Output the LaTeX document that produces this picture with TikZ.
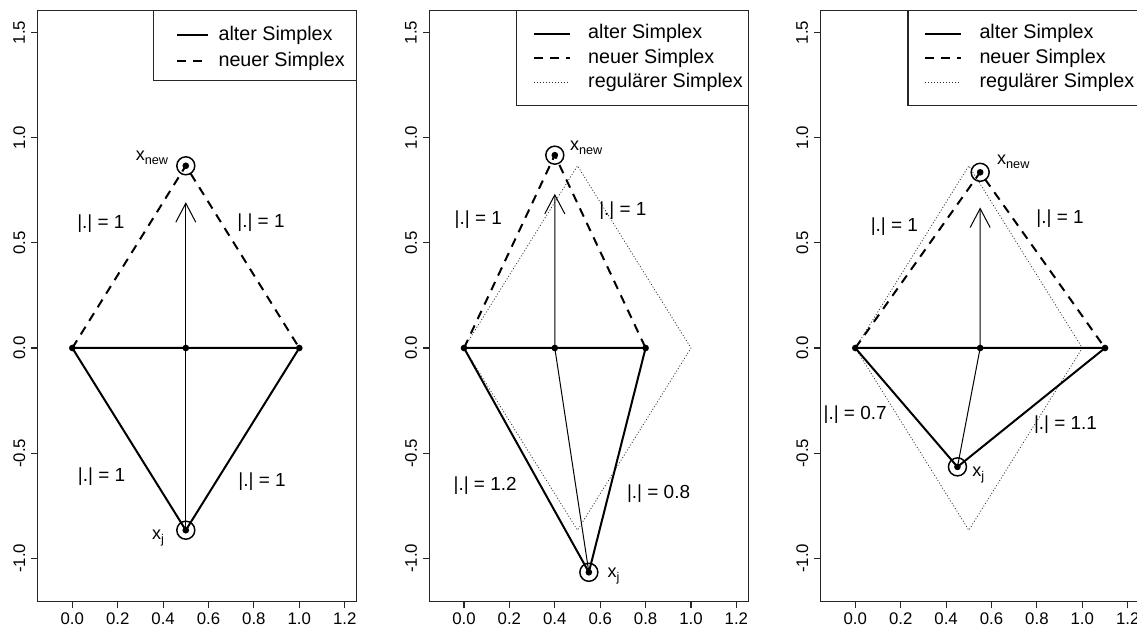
\documentclass[tikz,border=0pt]{standalone}
\usepackage{fontspec}
\setmainfont{Liberation Sans}
\usetikzlibrary{arrows.meta}
\newcommand\sbs[1]{\raisebox{-0.45ex}{\fontsize{9.5}{10}\selectfont #1}}
\tikzset{
  frame/.style={draw=black!85, line width=0.8pt},
  legbox/.style={draw=black!85, line width=0.8pt, fill=white},
  oldsx/.style={line width=1.5pt, line join=round},
  newsx/.style={line width=1.5pt, dash pattern=on 6.75pt off 5.25pt},
  regsx/.style={line width=0.6pt, dash pattern=on 0.75pt off 1.5pt, draw=black!80, line join=round},
  arrowline/.style={line width=0.75pt, -{Straight Barb[length=14.25pt,width=15pt]}},
  dotpt/.style={circle, fill=black, inner sep=0pt, minimum size=5pt},
  ring/.style={circle, draw, line width=1.1pt, inner sep=0pt, minimum size=13.5pt},
  lab/.style={font=\fontsize{14.2}{16}\selectfont, inner sep=0pt},
  xlab/.style={font=\fontsize{13.5}{16}\selectfont, inner sep=0pt},
  leg/.style={font=\fontsize{14.8}{17}\selectfont, inner sep=0pt, anchor=west},
  ticklab/.style={font=\fontsize{12.6}{14}\selectfont, inner sep=0pt}
}
\newcommand\plotaxes[1]{%
  \draw[frame] (-0.152,-1.204) rectangle (1.252,1.604);
  \foreach \v/\k [count=\c] in {0/0.0,0.2/0.2,0.4/0.4,0.6/0.6,0.8/0.8,1/1.0,1.2/1.2}{%
    \draw[frame] (\v,-1.204) -- ++(0,-5.25pt);
    \node[ticklab] (xt#1\c) at ([yshift=-13.3pt]\v,-1.204) {\k};
  }
  \foreach \v/\k [count=\c] in {-1/-1.0,-0.5/-0.5,0/0.0,0.5/0.5,1/1.0,1.5/1.5}{%
    \draw[frame] (-0.152,\v) -- ++(-5.25pt,0);
    \node[ticklab, rotate=90] (yt#1\c) at ([xshift=-13.9pt]-0.152,\v) {\k};
  }
}
\newcommand\regsimplex[1]{%
  \coordinate (ra#1) at (0,0); \coordinate (rb#1) at (1,0);
  \coordinate (rt#1) at (0.5,0.866); \coordinate (rd#1) at (0.5,-0.866);
  \draw[regsx] (ra#1) -- (rt#1) -- (rb#1) -- (rd#1) -- cycle;
}
\newcommand\legthree[1]{%
  \draw[legbox] (0.232,1.1535) rectangle (1.252,1.604);
  \coordinate (lsa#1) at (0.308,1.493); \coordinate (lsb#1) at (0.465,1.493);
  \coordinate (lda#1) at (0.308,1.376); \coordinate (ldb#1) at (0.465,1.376);
  \coordinate (lra#1) at (0.308,1.264); \coordinate (lrb#1) at (0.465,1.264);
  \draw[oldsx] (lsa#1) -- (lsb#1);
  \draw[newsx] (lda#1) -- (ldb#1);
  \draw[regsx] (lra#1) -- (lrb#1);
  \node[leg] (lts#1) at (0.546,1.493) {alter Simplex};
  \node[leg] (ltd#1) at (0.546,1.376) {neuer Simplex};
  \node[leg] (ltr#1) at (0.546,1.264) {regulärer Simplex};
}
\begin{document}
\begin{tikzpicture}
\useasboundingbox (0,0) rectangle (852.75pt,471pt);

% ---------------- Panel 1 ----------------
\begin{scope}[shift={(54.225pt,210pt)}, x=170.25pt, y=157.8pt]
  \plotaxes{1}
  \coordinate (a1) at (0,0); \coordinate (b1) at (1,0); \coordinate (m1) at (0.5,0);
  \coordinate (j1) at (0.5,-0.866); \coordinate (n1) at (0.5,0.866); \coordinate (t1) at (0.5,0.693);
  \draw[oldsx] (a1) -- (b1) -- (j1) -- cycle;
  \draw[newsx] (a1) -- (n1) -- (b1);
  \draw[arrowline] (j1) -- (m1) -- (t1);
  \foreach \p in {a1,b1,m1,j1,n1}{\node[dotpt] (d\p) at (\p) {};}
  \node[ring] (rj1) at (j1) {};
  \node[ring] (rn1) at (n1) {};
  \node[lab] (e1a) at (0.126,0.589) {|.| = 1};
  \node[lab] (e1b) at (0.831,0.594) {|.| = 1};
  \node[lab] (e1c) at (0.129,-0.613) {|.| = 1};
  \node[lab] (e1d) at (0.836,-0.637) {|.| = 1};
  \node[xlab] (xn1) at (0.351,0.905) {x\sbs{new}};
  \node[xlab] (xj1) at (0.378,-0.905) {x\sbs{j}};
  \draw[legbox] (0.357,1.270) rectangle (1.252,1.604);
  \coordinate (lsa1) at (0.4626,1.488); \coordinate (lsb1) at (0.5996,1.488);
  \coordinate (lda1) at (0.4626,1.364); \coordinate (ldb1) at (0.5996,1.364);
  \draw[oldsx] (lsa1) -- (lsb1);
  \draw[newsx] (lda1) -- (ldb1);
  \node[leg] (lts1) at (0.643,1.488) {alter Simplex};
  \node[leg] (ltd1) at (0.643,1.364) {neuer Simplex};
\end{scope}

% ---------------- Panel 2 ----------------
\begin{scope}[shift={(348pt,210pt)}, x=170.25pt, y=157.8pt]
  \plotaxes{2}
  \regsimplex{2}
  \coordinate (a2) at (0,0); \coordinate (b2) at (0.8,0); \coordinate (m2) at (0.4,0);
  \coordinate (j2) at (0.55,-1.066); \coordinate (n2) at (0.4,0.9165); \coordinate (t2) at (0.4,0.733);
  \draw[oldsx] (a2) -- (b2) -- (j2) -- cycle;
  \draw[newsx] (a2) -- (n2) -- (b2);
  \draw[arrowline] (j2) -- (m2) -- (t2);
  \foreach \p in {a2,b2,m2,j2,n2}{\node[dotpt] (d\p) at (\p) {};}
  \node[ring] (rj2) at (j2) {};
  \node[ring] (rn2) at (n2) {};
  \node[lab] (e2a) at (0.063,0.608) {|.| = 1};
  \node[lab] (e2b) at (0.700,0.651) {|.| = 1};
  \node[lab] (e2c) at (0.093,-0.656) {|.| = 1.2};
  \node[lab] (e2d) at (0.857,-0.691) {|.| = 0.8};
  \node[xlab] (xn2) at (0.538,0.952) {x\sbs{new}};
  \node[xlab] (xj2) at (0.659,-1.085) {x\sbs{j}};
  \legthree{2}
\end{scope}

% ---------------- Panel 3 ----------------
\begin{scope}[shift={(641.475pt,210pt)}, x=170.25pt, y=157.8pt]
  \plotaxes{3}
  \regsimplex{3}
  \coordinate (a3) at (0,0); \coordinate (b3) at (1.1,0); \coordinate (m3) at (0.55,0);
  \coordinate (j3) at (0.45,-0.565); \coordinate (n3) at (0.55,0.835); \coordinate (t3) at (0.55,0.668);
  \draw[oldsx] (a3) -- (b3) -- (j3) -- cycle;
  \draw[newsx] (a3) -- (n3) -- (b3);
  \draw[arrowline] (j3) -- (m3) -- (t3);
  \foreach \p in {a3,b3,m3,j3,n3}{\node[dotpt] (d\p) at (\p) {};}
  \node[ring] (rj3) at (j3) {};
  \node[ring] (rn3) at (n3) {};
  \node[lab] (e3a) at (0.172,0.577) {|.| = 1};
  \node[lab] (e3b) at (0.902,0.616) {|.| = 1};
  \node[lab] (e3c) at (-0.001,-0.318) {|.| = 0.7};
  \node[lab] (e3d) at (0.926,-0.363) {|.| = 1.1};
  \node[xlab] (xn3) at (0.696,0.886) {x\sbs{new}};
  \node[xlab] (xj3) at (0.542,-0.605) {x\sbs{j}};
  \legthree{3}
\end{scope}
\end{tikzpicture}
\end{document}
